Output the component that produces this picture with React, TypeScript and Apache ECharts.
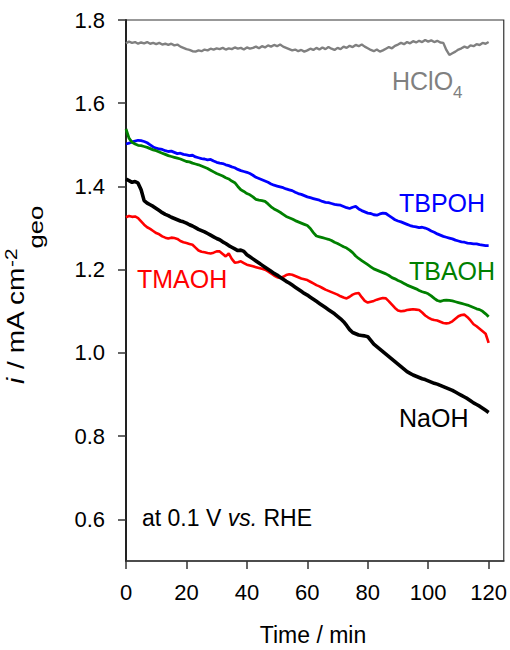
import React, { useEffect, useRef } from "react";
import * as echarts from "echarts";

// Time axis (minutes) – one sample per minute
const minutes: number[] = Array.from({ length: 121 }, (_, i) => i);

const xTickValues = [0, 20, 40, 60, 80, 100, 120];
const yTickValues = [0.6, 0.8, 1.0, 1.2, 1.4, 1.6, 1.8];

const hclo4 = [
  1.744, 1.748, 1.745, 1.747, 1.743, 1.746, 1.744, 1.747, 1.743, 1.745,
  1.742, 1.745, 1.741, 1.743, 1.740, 1.743, 1.739, 1.741, 1.736, 1.733,
  1.730, 1.728, 1.725, 1.724, 1.727, 1.725, 1.729, 1.727, 1.731, 1.729,
  1.732, 1.730, 1.733, 1.729, 1.732, 1.730, 1.734, 1.731, 1.733, 1.729,
  1.734, 1.731, 1.733, 1.736, 1.732, 1.737, 1.734, 1.739, 1.736, 1.740,
  1.737, 1.741, 1.736, 1.733, 1.730, 1.727, 1.729, 1.725, 1.728, 1.724,
  1.727, 1.731, 1.728, 1.733, 1.729, 1.734, 1.730, 1.735, 1.731, 1.728,
  1.733, 1.730, 1.736, 1.733, 1.738, 1.735, 1.740, 1.737, 1.741, 1.736,
  1.732, 1.728, 1.725, 1.729, 1.724, 1.727, 1.731, 1.735, 1.732, 1.738,
  1.741, 1.745, 1.742, 1.747, 1.744, 1.749, 1.746, 1.750, 1.747, 1.752,
  1.748, 1.751, 1.747, 1.750, 1.746, 1.745, 1.728, 1.716, 1.720, 1.724,
  1.729, 1.732, 1.736, 1.733, 1.739, 1.737, 1.742, 1.740, 1.745, 1.743,
  1.747,
];

const tbpoh = [
  1.502, 1.504, 1.507, 1.509, 1.511, 1.510, 1.508, 1.505, 1.500, 1.495,
  1.492, 1.490, 1.489, 1.486, 1.484, 1.485, 1.482, 1.479, 1.480, 1.477,
  1.476, 1.474, 1.475, 1.471, 1.469, 1.467, 1.466, 1.464, 1.465, 1.461,
  1.458, 1.456, 1.455, 1.452, 1.450, 1.447, 1.445, 1.441, 1.438, 1.436,
  1.434, 1.431, 1.427, 1.422, 1.419, 1.416, 1.413, 1.410, 1.406, 1.403,
  1.401, 1.399, 1.397, 1.394, 1.392, 1.390, 1.386, 1.383, 1.381, 1.378,
  1.375, 1.373, 1.371, 1.369, 1.367, 1.364, 1.362, 1.361, 1.359, 1.357,
  1.356, 1.355, 1.352, 1.349, 1.347, 1.350, 1.352, 1.346, 1.342, 1.339,
  1.336, 1.335, 1.332, 1.331, 1.334, 1.336, 1.335, 1.330, 1.325, 1.320,
  1.317, 1.315, 1.312, 1.309, 1.306, 1.304, 1.303, 1.301, 1.302, 1.300,
  1.297, 1.293, 1.290, 1.286, 1.283, 1.280, 1.278, 1.276, 1.274, 1.271,
  1.269, 1.267, 1.266, 1.264, 1.263, 1.262, 1.262, 1.260, 1.259, 1.258,
  1.258,
];

const tbaoh = [
  1.538, 1.516, 1.506, 1.502, 1.499, 1.498, 1.496, 1.494, 1.491, 1.488,
  1.486, 1.483, 1.480, 1.477, 1.474, 1.472, 1.470, 1.468, 1.466, 1.463,
  1.460, 1.459, 1.456, 1.454, 1.452, 1.449, 1.446, 1.443, 1.439, 1.435,
  1.431, 1.428, 1.425, 1.421, 1.418, 1.413, 1.409, 1.400, 1.392, 1.388,
  1.383, 1.380, 1.375, 1.369, 1.367, 1.366, 1.364, 1.358, 1.351, 1.346,
  1.342, 1.338, 1.333, 1.328, 1.325, 1.322, 1.318, 1.315, 1.312, 1.309,
  1.306, 1.299, 1.289, 1.281, 1.279, 1.277, 1.275, 1.273, 1.270, 1.266,
  1.263, 1.259, 1.255, 1.252, 1.247, 1.241, 1.233, 1.227, 1.222, 1.217,
  1.212, 1.207, 1.202, 1.199, 1.196, 1.193, 1.190, 1.186, 1.181, 1.178,
  1.174, 1.171, 1.167, 1.163, 1.160, 1.157, 1.154, 1.150, 1.147, 1.145,
  1.142, 1.137, 1.131, 1.126, 1.124, 1.126, 1.127, 1.126, 1.125, 1.123,
  1.121, 1.119, 1.117, 1.115, 1.112, 1.109, 1.106, 1.104, 1.100, 1.094,
  1.087,
];

const tmaoh = [
  1.326, 1.329, 1.327, 1.328, 1.324, 1.316, 1.308, 1.302, 1.298, 1.293,
  1.288, 1.285, 1.280, 1.277, 1.275, 1.277, 1.276, 1.274, 1.269, 1.266,
  1.264, 1.262, 1.260, 1.253, 1.246, 1.243, 1.242, 1.240, 1.239, 1.241,
  1.244, 1.244, 1.238, 1.232, 1.239, 1.226, 1.217, 1.218, 1.220, 1.216,
  1.212, 1.210, 1.208, 1.206, 1.204, 1.202, 1.200, 1.196, 1.191, 1.186,
  1.182, 1.180, 1.183, 1.187, 1.189, 1.188, 1.185, 1.182, 1.179, 1.177,
  1.175, 1.171, 1.167, 1.163, 1.160, 1.156, 1.152, 1.149, 1.146, 1.143,
  1.140, 1.136, 1.133, 1.131, 1.135, 1.140, 1.143, 1.144, 1.134, 1.125,
  1.121, 1.123, 1.125, 1.128, 1.130, 1.132, 1.131, 1.124, 1.116, 1.108,
  1.102, 1.100, 1.101, 1.103, 1.104, 1.105, 1.104, 1.103, 1.097, 1.090,
  1.085, 1.081, 1.079, 1.078, 1.075, 1.072, 1.071, 1.072, 1.076, 1.082,
  1.088, 1.091, 1.092, 1.086, 1.078, 1.069, 1.064, 1.058, 1.052, 1.046,
  1.024,
];

const naoh = [
  1.418, 1.414, 1.410, 1.412, 1.408, 1.392, 1.366, 1.360, 1.356, 1.352,
  1.347, 1.342, 1.337, 1.333, 1.330, 1.326, 1.323, 1.320, 1.317, 1.315,
  1.312, 1.308, 1.305, 1.301, 1.297, 1.294, 1.291, 1.287, 1.283, 1.279,
  1.275, 1.272, 1.267, 1.263, 1.258, 1.254, 1.250, 1.246, 1.247, 1.244,
  1.236, 1.231, 1.226, 1.221, 1.216, 1.211, 1.206, 1.201, 1.196, 1.191,
  1.187, 1.182, 1.177, 1.172, 1.168, 1.163, 1.158, 1.153, 1.148, 1.143,
  1.139, 1.134, 1.129, 1.124, 1.119, 1.114, 1.109, 1.104, 1.099, 1.094,
  1.088, 1.082, 1.075, 1.066, 1.056, 1.049, 1.046, 1.043, 1.042, 1.041,
  1.039, 1.030, 1.021, 1.015, 1.009, 1.003, 0.997, 0.991, 0.985, 0.979,
  0.973, 0.967, 0.961, 0.955, 0.951, 0.947, 0.944, 0.941, 0.938, 0.936,
  0.933, 0.930, 0.927, 0.925, 0.922, 0.919, 0.916, 0.913, 0.910, 0.906,
  0.902, 0.898, 0.894, 0.890, 0.885, 0.880, 0.876, 0.872, 0.867, 0.862,
  0.857,
];

const FONT = "'Liberation Sans', Arial, sans-serif";

function pairs(vals: number[]): number[][] {
  return vals.map((v, i) => [minutes[i], v]);
}

export default function App() {
  const ref = useRef<HTMLDivElement>(null);

  useEffect(() => {
    document.body.style.margin = "0";
    if (!ref.current) return;
    const chart = echarts.init(ref.current, undefined, { renderer: "svg" });

    const line = (name: string, vals: number[], color: string, width: number) => ({
      name,
      type: "line",
      data: pairs(vals),
      showSymbol: false,
      symbol: "none",
      lineStyle: { color, width },
      itemStyle: { color },
      emphasis: { disabled: true },
    });

    const axisLabelBase = { fontSize: 22, color: "#000", fontFamily: FONT };

    const option: any = {
      animation: false,
      backgroundColor: "#fff",
      grid: {
        left: 126,
        right: 6,
        top: 20,
        bottom: 89,
        show: true,
        borderColor: "#333",
        borderWidth: 1.2,
        backgroundColor: "transparent",
      },
      xAxis: {
        type: "value",
        min: 0,
        max: 125,
        axisLine: { show: true, onZero: false, lineStyle: { color: "#333", width: 1.6 } },
        axisTick: { show: true, length: 8, customValues: xTickValues, lineStyle: { color: "#333", width: 1.5 } },
        axisLabel: { ...axisLabelBase, customValues: xTickValues, margin: 20 },
        splitLine: { show: false },
      },
      yAxis: {
        type: "value",
        min: 0.5,
        max: 1.8,
        axisLine: { show: true, onZero: false, lineStyle: { color: "#222", width: 2 } },
        axisTick: { show: true, length: 8, customValues: yTickValues, lineStyle: { color: "#333", width: 1.5 } },
        axisLabel: {
          ...axisLabelBase,
          customValues: yTickValues,
          margin: 21,
          formatter: (v: number) => v.toFixed(1),
        },
        splitLine: { show: false },
      },
      series: [
        line("HClO4", hclo4, "#808080", 2.4),
        line("TBPOH", tbpoh, "#0000ff", 2.8),
        line("TBAOH", tbaoh, "#008000", 2.8),
        line("TMAOH", tmaoh, "#ff0000", 2.6),
        line("NaOH", naoh, "#000000", 3.6),
      ],
      graphic: [
        { type: "text", x: 392, y: 81, style: { text: "HClO", fill: "#808080", font: `25px ${FONT}`, verticalAlign: "middle", align: "left" } },
        { type: "text", x: 453, y: 92, style: { text: "4", fill: "#808080", font: `17px ${FONT}`, verticalAlign: "middle", align: "left" } },
        { type: "text", x: 399, y: 203, style: { text: "TBPOH", fill: "#0000ff", font: `25px ${FONT}`, verticalAlign: "middle", align: "left" } },
        { type: "text", x: 409, y: 271, style: { text: "TBAOH", fill: "#008000", font: `25px ${FONT}`, verticalAlign: "middle", align: "left" } },
        { type: "text", x: 137, y: 279, style: { text: "TMAOH", fill: "#ff0000", font: `25px ${FONT}`, verticalAlign: "middle", align: "left" } },
        { type: "text", x: 399, y: 418, style: { text: "NaOH", fill: "#000000", font: `25px ${FONT}`, verticalAlign: "middle", align: "left" } },
        {
          type: "text",
          x: 142,
          y: 518,
          style: {
            text: "{n|at 0.1 V }{it|vs.}{n| RHE}",
            verticalAlign: "middle",
            align: "left",
            rich: {
              n: { fontSize: 23, fontFamily: FONT, fill: "#000", color: "#000" },
              it: { fontSize: 23, fontFamily: FONT, fontStyle: "italic", fill: "#000", color: "#000" },
            },
          },
        },
        {
          type: "text",
          x: 313,
          y: 635,
          style: { text: "Time / min", fill: "#000", font: `23px ${FONT}`, verticalAlign: "middle", align: "center" },
        },
        {
          type: "group",
          x: 0,
          y: 384,
          rotation: Math.PI / 2,
          scaleX: 1.22,
          children: [
            { type: "text", x: 0, y: 16, style: { text: "i", fill: "#000", font: `italic 23px ${FONT}`, verticalAlign: "middle", align: "left" } },
            { type: "text", x: 6, y: 16, style: { text: " / mA cm", fill: "#000", font: `23px ${FONT}`, verticalAlign: "middle", align: "left" } },
            { type: "text", x: 96, y: 11, style: { text: "-2", fill: "#000", font: `17px ${FONT}`, verticalAlign: "middle", align: "left" } },
            { type: "text", x: 111, y: 36, style: { text: "geo", fill: "#000", font: `21px ${FONT}`, verticalAlign: "middle", align: "left" } },
          ],
        },
      ],
    };

    chart.setOption(option);
    return () => chart.dispose();
  }, []);

  return <div ref={ref} style={{ width: 510, height: 650 }} />;
}
